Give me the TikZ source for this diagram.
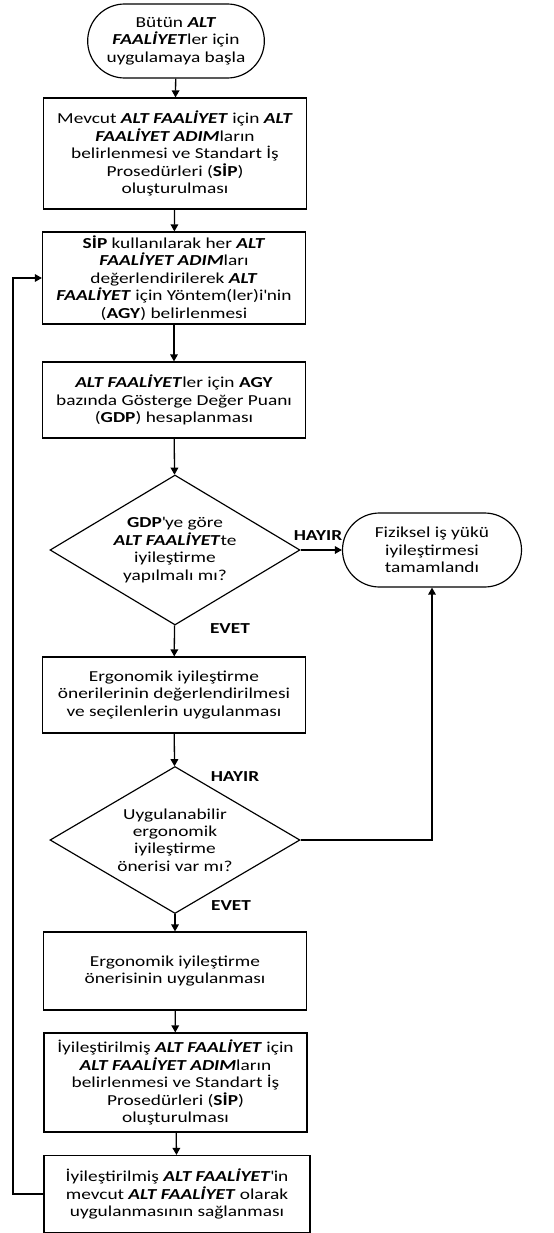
\documentclass[tikz,border=0pt]{standalone}
\usepackage{fontspec}
\setmainfont{Carlito}[FakeStretch=1.27]
\usetikzlibrary{arrows.meta,shapes.geometric,shapes.misc}
\newcommand{\kalin}[1]{\textbf{\textit{#1}}}

\begin{document}
\begin{tikzpicture}[x=0.03cm,y=-0.03cm,
    yazi/.style={font=\fontsize{13}{14.9}\selectfont,align=center,inner sep=0pt},
    kutu/.style={yazi,draw,line width=1pt,minimum width=7.89cm},
    uc/.style={yazi,draw,line width=1pt,rounded rectangle,minimum width=5.3cm,minimum height=2.22cm},
    karar/.style={yazi,draw,line width=1pt,diamond,shape aspect=1.67,minimum width=7.5cm,minimum height=4.5cm},
    etiket/.style={font=\fontsize{13}{14.9}\selectfont\bfseries,inner sep=0pt},
    ok/.style={line width=1.1pt,-{Triangle[length=6pt,width=6.5pt]}}]
    \useasboundingbox (0,0) rectangle (553,1233);
    %% Ana akis
    \node[uc] (basla) at (176,41)
    {B\"ut\"un \kalin{ALT}\\ \kalin{FAALİYET}ler için\\ uygulamaya başla};
    \node[kutu,minimum height=3.33cm] (mevcut) at (175,153.5)
    {Mevcut \kalin{ALT FAALİYET} için \kalin{ALT}\\ \kalin{FAALİYET ADIM}ların\\ belirlenmesi ve Standart İş\\ Prosedürleri (\textbf{SİP})\\ oluşturulması};
    \node[kutu,minimum height=2.76cm] (sip) at (174,278)
    {\textbf{SİP} kullanılarak her \kalin{ALT}\\ \kalin{FAALİYET ADIM}ları\\ değerlendirilerek \kalin{ALT}\\ \kalin{FAALİYET} için Yöntem(ler)i\textquotesingle nin\\ (\textbf{AGY}) belirlenmesi};
    \node[kutu,minimum height=2.28cm] (gdp) at (174,400)
    {\kalin{ALT FAALİYET}ler için \textbf{AGY}\\ bazında Gösterge Değer Puanı\\ (\textbf{GDP}) hesaplanması};
    \node[karar] (karar1) at (175,550)
    {\textbf{GDP}\textquotesingle ye göre\\ \kalin{ALT FAALİYET}te\\ iyileştirme\\ yapılmalı mı?};
    \node[uc,minimum width=5.37cm] (bitis) at (432,550)
    {Fiziksel iş yükü\\ iyileştirmesi\\ tamamlandı};
    \node[kutu,minimum height=2.28cm] (oneri) at (174,695)
    {Ergonomik iyileştirme\\ önerilerinin değerlendirilmesi\\ ve seçilenlerin uygulanması};
    \node[karar,minimum height=4.41cm] (karar2) at (175,840)
    {Uygulanabilir\\ ergonomik\\ iyileştirme\\ önerisi var mı?};
    \node[kutu,minimum height=2.34cm] (uygula) at (175,971)
    {Ergonomik iyileştirme\\ önerisinin uygulanması};
    \node[kutu,minimum height=2.97cm] (iyilestir) at (175.5,1082.5)
    {İyileştirilmiş \kalin{ALT FAALİYET} için\\ \kalin{ALT FAALİYET ADIM}ların\\ belirlenmesi ve Standart İş\\ Prosedürleri (\textbf{SİP})\\ oluşturulması};
    \node[kutu,minimum width=7.98cm,minimum height=2.31cm] (mevcutyap) at (177,1194)
    {İyileştirilmiş \kalin{ALT FAALİYET}\textquotesingle in\\ mevcut \kalin{ALT FAALİYET} olarak\\ uygulanmasının sağlanması};

    %% Etiketler
    \node[etiket] (hayir1) at (318,536) {HAYIR};
    \node[etiket] (evet1) at (230,629) {EVET};
    \node[etiket] (hayir2) at (235,777) {HAYIR};
    \node[etiket] (evet2) at (231,906) {EVET};

    %% Oklar
    \draw[ok] (basla) -- (mevcut);
    \draw[ok] (mevcut) -- (sip);
    \draw[ok] (sip) -- (gdp);
    \draw[ok] (gdp) -- (karar1);
    \draw[ok] (karar1) -- (bitis);
    \draw[ok] (karar1) -- (oneri);
    \draw[ok] (oneri) -- (karar2);
    \draw[ok] (karar2.east) -| (bitis.south);
    \draw[ok] (karar2) -- (uygula);
    \draw[ok] (uygula) -- (iyilestir);
    \draw[ok] (iyilestir) -- (mevcutyap);
    %% Geri donus
    \coordinate (donus) at (13,700);
    \draw[ok] (mevcutyap.west) -| (donus) |- (sip.west);
\end{tikzpicture}
\end{document}
